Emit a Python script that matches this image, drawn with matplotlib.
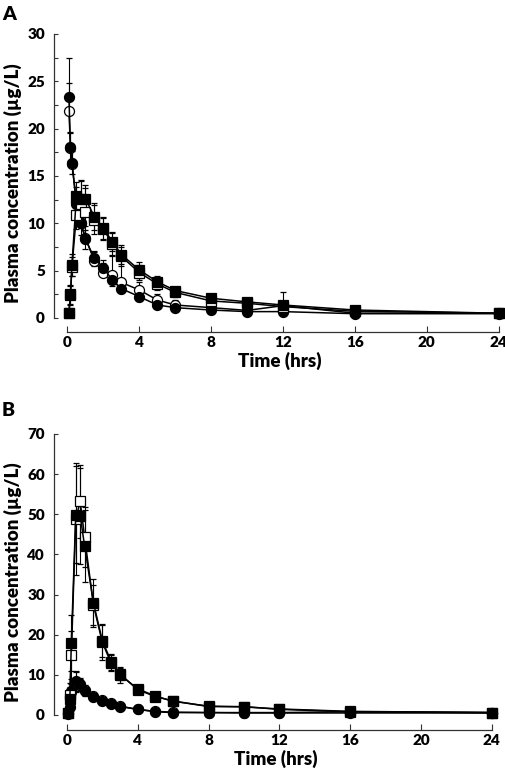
import matplotlib
matplotlib.use("Agg")
import matplotlib.pyplot as plt
from matplotlib.ticker import MultipleLocator

plt.rcParams['font.family'] = ['Lato', 'DejaVu Sans']
plt.rcParams['font.weight'] = 'heavy'

# ---- data ----
time_h = [0.083, 0.167, 0.25, 0.5, 0.75, 1, 1.5, 2, 2.5, 3, 4, 5, 6, 8, 10, 12, 16, 24]

# Panel A
a_open_circle = [21.9, 18.0, 16.3, 12.3, 10.0, 8.5, 6.0, 4.8, 4.5, 3.75, 2.96, 1.9, 1.37, 1.09, 0.8, 1.3, 0.5, 0.5]
a_open_circle_err = [5.6, 1.5, 1.5, 1.5, 1.5, 1.2, 1.0, 1.0, 2.0, 3.0, 0.8, 0.6, 0.5, 0.3, 0.3, 1.4, 0.2, 0.1]
a_filled_circle = [23.3, 18.1, 16.4, 12.0, 10.0, 8.3, 6.3, 5.3, 4.0, 3.1, 2.25, 1.37, 1.09, 0.84, 0.67, 0.67, 0.45, 0.45]
a_filled_circle_err = [1.5, 1.5, 1.2, 1.2, 1.2, 1.0, 0.8, 0.8, 0.6, 0.5, 0.5, 0.3, 0.3, 0.2, 0.2, 0.2, 0.1, 0.1]
a_open_square = [0.5, 2.4, 5.4, 10.9, 12.0, 11.2, 10.4, 9.4, 7.8, 6.5, 4.8, 3.6, 2.7, 1.8, 1.55, 1.2, 0.7, 0.5]
a_open_square_err = [0.3, 1.0, 1.0, 1.5, 2.5, 2.5, 1.5, 1.2, 1.2, 1.0, 0.8, 0.6, 0.5, 0.4, 0.3, 0.3, 0.2, 0.1]
a_filled_square = [0.55, 2.5, 5.6, 12.9, 12.6, 12.6, 10.7, 9.5, 8.05, 6.7, 5.07, 3.83, 2.9, 2.08, 1.7, 1.37, 0.84, 0.5]
a_filled_square_err = [0.3, 1.0, 1.2, 1.5, 2.0, 1.5, 1.4, 1.2, 1.0, 1.0, 0.8, 0.6, 0.4, 0.3, 0.3, 0.3, 0.2, 0.1]

# Panel B
b_open_circle = [0.4, 4.6, 6.0, 8.3, 7.5, 6.2, 4.7, 3.7, 2.9, 2.2, 1.4, 0.9, 0.7, 0.6, 0.5, 0.5, 0.5, 0.5]
b_open_circle_err = [0.2, 1.0, 2.0, 2.5, 1.5, 1.2, 1.0, 0.6, 0.5, 0.4, 0.3, 0.2, 0.2, 0.1, 0.1, 0.1, 0.1, 0.1]
b_filled_circle = [0.3, 2.1, 5.8, 8.5, 7.8, 6.0, 4.5, 3.6, 2.7, 2.1, 1.4, 0.8, 0.6, 0.6, 0.6, 0.6, 0.8, 0.6]
b_filled_circle_err = [0.2, 1.0, 2.0, 2.5, 1.5, 1.2, 1.0, 0.6, 0.5, 0.4, 0.3, 0.2, 0.2, 0.1, 0.1, 0.1, 0.1, 0.1]
b_open_square = [0.5, 5.0, 15.0, 48.8, 53.2, 44.3, 27.4, 18.1, 12.9, 10.0, 6.5, 4.7, 3.4, 2.2, 2.0, 1.5, 0.9, 0.6]
b_open_square_err = [0.3, 3.0, 6.0, 14.0, 9.0, 7.4, 5.0, 4.5, 2.0, 2.0, 1.0, 0.7, 0.5, 0.3, 0.3, 0.3, 0.2, 0.1]
b_filled_square = [0.5, 4.0, 18.0, 49.9, 49.6, 42.1, 27.9, 18.5, 13.3, 10.2, 6.3, 4.6, 3.5, 2.1, 2.1, 1.4, 0.8, 0.6]
b_filled_square_err = [0.3, 3.0, 7.0, 12.0, 12.0, 9.0, 6.0, 4.0, 2.0, 1.5, 1.0, 0.7, 0.5, 0.3, 0.3, 0.3, 0.2, 0.1]

x_ticks = [0, 4, 8, 12, 16, 20, 24]
x_label = "Time (hrs)"
y_label = "Plasma concentration (µg/L)"

fig = plt.figure(figsize=(5.06, 7.78), dpi=100)
axA = fig.add_axes([0.1067, 0.5733, 0.891, 0.3830])
axB = fig.add_axes([0.1067, 0.0617, 0.8755, 0.3805])


def draw(ax, series, xlim, ylim, ymax, ymajor, yminor):
    for y, e, marker, face, upper_only in series:
        yerr = [[0] * len(e), e] if upper_only else e
        ax.errorbar(time_h, y, yerr=yerr, fmt='-', marker=marker, color='black',
                    mfc=face, mec='black', ms=7.2, mew=0.9, lw=1.1,
                    elinewidth=0.8, capsize=2.5, capthick=0.8, clip_on=False)
    ax.set_xlim(*xlim)
    ax.set_ylim(*ylim)
    for s in ['top', 'right']:
        ax.spines[s].set_visible(False)
    ax.spines['left'].set_bounds(0, ymax)
    ax.spines['bottom'].set_bounds(0, 24)
    for s in ['left', 'bottom']:
        ax.spines[s].set_color('#333333')
        ax.spines[s].set_linewidth(0.9)
    ax.set_xticks(x_ticks)
    ax.yaxis.set_major_locator(MultipleLocator(ymajor))
    if yminor:
        ax.yaxis.set_minor_locator(MultipleLocator(yminor))
    ax.tick_params(axis='x', direction='in', length=4.5, width=0.8, pad=3,
                   labelsize=11, color='#333333')
    ax.tick_params(axis='y', which='both', direction='in', length=3.2, width=0.8,
                   pad=6.5, labelsize=11, color='#333333')
    for lab in ax.get_xticklabels() + ax.get_yticklabels():
        lab.set_fontweight('heavy')
    ax.set_xlabel(x_label, fontsize=13.5, fontweight='heavy', labelpad=2)
    ax.set_ylabel(y_label, fontsize=13.5, fontweight='heavy', labelpad=4)


draw(axA, [(a_open_circle, a_open_circle_err, 'o', 'white', True),
           (a_filled_circle, a_filled_circle_err, 'o', 'black', False),
           (a_open_square, a_open_square_err, 's', 'white', False),
           (a_filled_square, a_filled_square_err, 's', 'black', False)],
     (-0.75, 24.35), (-1.48, 30), 30, 5, 2.5)
draw(axB, [(b_open_circle, b_open_circle_err, 'o', 'white', False),
           (b_filled_circle, b_filled_circle_err, 'o', 'black', False),
           (b_open_square, b_open_square_err, 's', 'white', False),
           (b_filled_square, b_filled_square_err, 's', 'black', False)],
     (-0.73, 24.3), (-3.74, 70), 70, 10, None)

fig.text(0.004, 0.982, "A", fontsize=14, fontweight='heavy', va='center', ha='left')
fig.text(0.004, 0.473, "B", fontsize=14, fontweight='heavy', va='center', ha='left')

fig.savefig("out.png", dpi=100)
